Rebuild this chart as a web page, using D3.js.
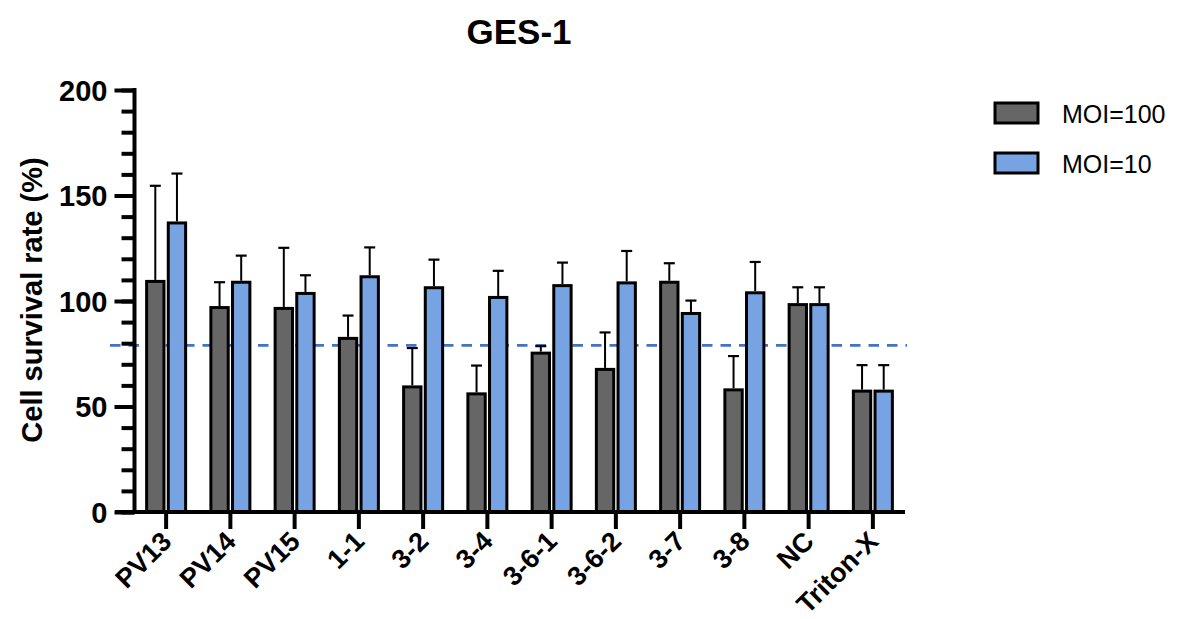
<!DOCTYPE html>
<html>
<head>
<meta charset="utf-8">
<script src="https://cdn.jsdelivr.net/npm/d3@7"></script>
<style>
  html, body { margin: 0; padding: 0; background: #fff; }
  svg { display: block; font-family: "Liberation Sans", Arial, sans-serif; }
</style>
</head>
<body>
<svg id="chart" width="1194" height="619"></svg>
<script>
const categories = ["PV13", "PV14", "PV15", "1-1", "3-2", "3-4", "3-6-1", "3-6-2", "3-7", "3-8", "NC", "Triton-X"];
const seriesNames = ["MOI=100", "MOI=10"];
const moi100Mean = [110, 97.6, 97.2, 83, 60, 56.7, 76, 68.3, 109.6, 58.6, 99, 58];
const moi100SD   = [44.6, 11.3, 28, 10.1, 17.7, 12.7, 2.6, 16.8, 8.3, 15.3, 7.5, 11.6];
const moi10Mean  = [137.7, 109.6, 104.3, 112.2, 107, 102.4, 108, 109.3, 94.8, 104.6, 99, 58];
const moi10SD    = [22.7, 11.9, 7.9, 13.2, 12.6, 11.9, 10.2, 14.4, 5.4, 13.9, 7.5, 11.6];
const yMajorTicks = [0, 50, 100, 150, 200];
const thresholdValue = 79;
const titleText = "GES-1";
const yLabelText = "Cell survival rate (%)";

const colors = { "MOI=100": "#666666", "MOI=10": "#77a3e2" };

const svg = d3.select("#chart");

const x = d3.scaleBand().domain(categories).range([134, 905]).paddingInner(0).paddingOuter(0);
const y = d3.scaleLinear().domain([0, 200]).range([512, 90]);

const rows = categories.map((c, i) => ({
  cat: c,
  vals: [
    { s: seriesNames[0], v: moi100Mean[i], sd: moi100SD[i] },
    { s: seriesNames[1], v: moi10Mean[i], sd: moi10SD[i] }
  ]
}));

const innerHalf = 21;
const xi = d3.scaleBand().domain(seriesNames).range([-innerHalf, innerHalf]).paddingInner(0.06);

// threshold dashed line (behind bars)
svg.append("line")
  .attr("x1", 110).attr("x2", 907)
  .attr("y1", y(thresholdValue)).attr("y2", y(thresholdValue))
  .attr("stroke", "#4472c4").attr("stroke-width", 2.7)
  .attr("stroke-dasharray", "10.5,8");

const groups = svg.append("g").selectAll("g").data(rows).join("g")
  .attr("transform", d => `translate(${x(d.cat) + x.bandwidth() / 2},0)`);

const sw = 3;
// error bars
groups.selectAll("g.err").data(d => d.vals).join("g").attr("class", "err").each(function (d) {
  const g = d3.select(this);
  const cx = xi(d.s) + xi.bandwidth() / 2;
  g.append("line").attr("x1", cx).attr("x2", cx)
    .attr("y1", y(d.v)).attr("y2", y(d.v + d.sd))
    .attr("stroke", "#000").attr("stroke-width", 2);
  g.append("line").attr("x1", cx - 5.5).attr("x2", cx + 5.5)
    .attr("y1", y(d.v + d.sd)).attr("y2", y(d.v + d.sd))
    .attr("stroke", "#000").attr("stroke-width", 2.2);
});

// bars
groups.selectAll("rect").data(d => d.vals).join("rect")
  .attr("x", d => xi(d.s) + sw / 2)
  .attr("width", xi.bandwidth() - sw)
  .attr("y", d => y(d.v) + sw / 2)
  .attr("height", d => y(0) - y(d.v) - sw / 2)
  .attr("fill", d => colors[d.s])
  .attr("stroke", "#000").attr("stroke-width", sw);

// y axis: minor ticks
const yMinor = d3.axisLeft(y).tickValues(d3.range(0, 201, 10)).tickSize(13).tickFormat("");
const gMinor = svg.append("g").attr("transform", "translate(134.5,0)").call(yMinor);
gMinor.select(".domain").remove();
gMinor.selectAll("line").attr("stroke", "#000").attr("stroke-width", 4);

const yMajor = d3.axisLeft(y).tickValues(yMajorTicks).tickSize(20).tickPadding(7).tickFormat(d3.format("d"));
const gY = svg.append("g").attr("transform", "translate(134.5,0)").call(yMajor);
gY.select(".domain").attr("stroke", "#000").attr("stroke-width", 4).attr("d", `M0,${y(200) - 2}V${y(0) + 2}`);
gY.selectAll("line").attr("stroke", "#000").attr("stroke-width", 4);
gY.selectAll("text").attr("fill", "#000").attr("font-size", 29).attr("font-weight", "bold")
  .attr("font-family", "Liberation Sans, Arial, sans-serif").attr("dy", "0.35em");

// x axis
const xAxis = d3.axisBottom(x).tickSize(17).tickSizeOuter(0).tickPadding(4);
const gX = svg.append("g").attr("transform", `translate(0,${y(0)})`).call(xAxis);
gX.select(".domain").attr("stroke", "#000").attr("stroke-width", 4).attr("d", `M115,0H905`);
gX.selectAll("line").attr("stroke", "#000").attr("stroke-width", 4);
gX.selectAll("text")
  .attr("fill", "#000").attr("font-size", 27).attr("font-weight", "bold")
  .attr("font-family", "Liberation Sans, Arial, sans-serif")
  .attr("text-anchor", "end")
  .attr("dy", null)
  .attr("y", 0)
  .attr("transform", "translate(7,31) rotate(-45)");

// title
svg.append("text").attr("x", 519).attr("y", 44).attr("text-anchor", "middle")
  .attr("font-size", 35).attr("font-weight", "bold").text(titleText);

// y label
svg.append("text").attr("transform", "translate(42,300) rotate(-90)")
  .attr("text-anchor", "middle").attr("font-size", 29).attr("font-weight", "bold").text(yLabelText);

// legend
const legend = svg.append("g").selectAll("g").data(seriesNames).join("g")
  .attr("transform", (d, i) => `translate(995,${103 + i * 50})`);
legend.append("rect").attr("x", 0).attr("y", 0).attr("width", 43).attr("height", 20)
  .attr("fill", d => colors[d]).attr("stroke", "#000").attr("stroke-width", 3);
legend.append("text").attr("x", 67).attr("y", 20).attr("font-size", 25).text(d => d);
</script>
</body>
</html>
